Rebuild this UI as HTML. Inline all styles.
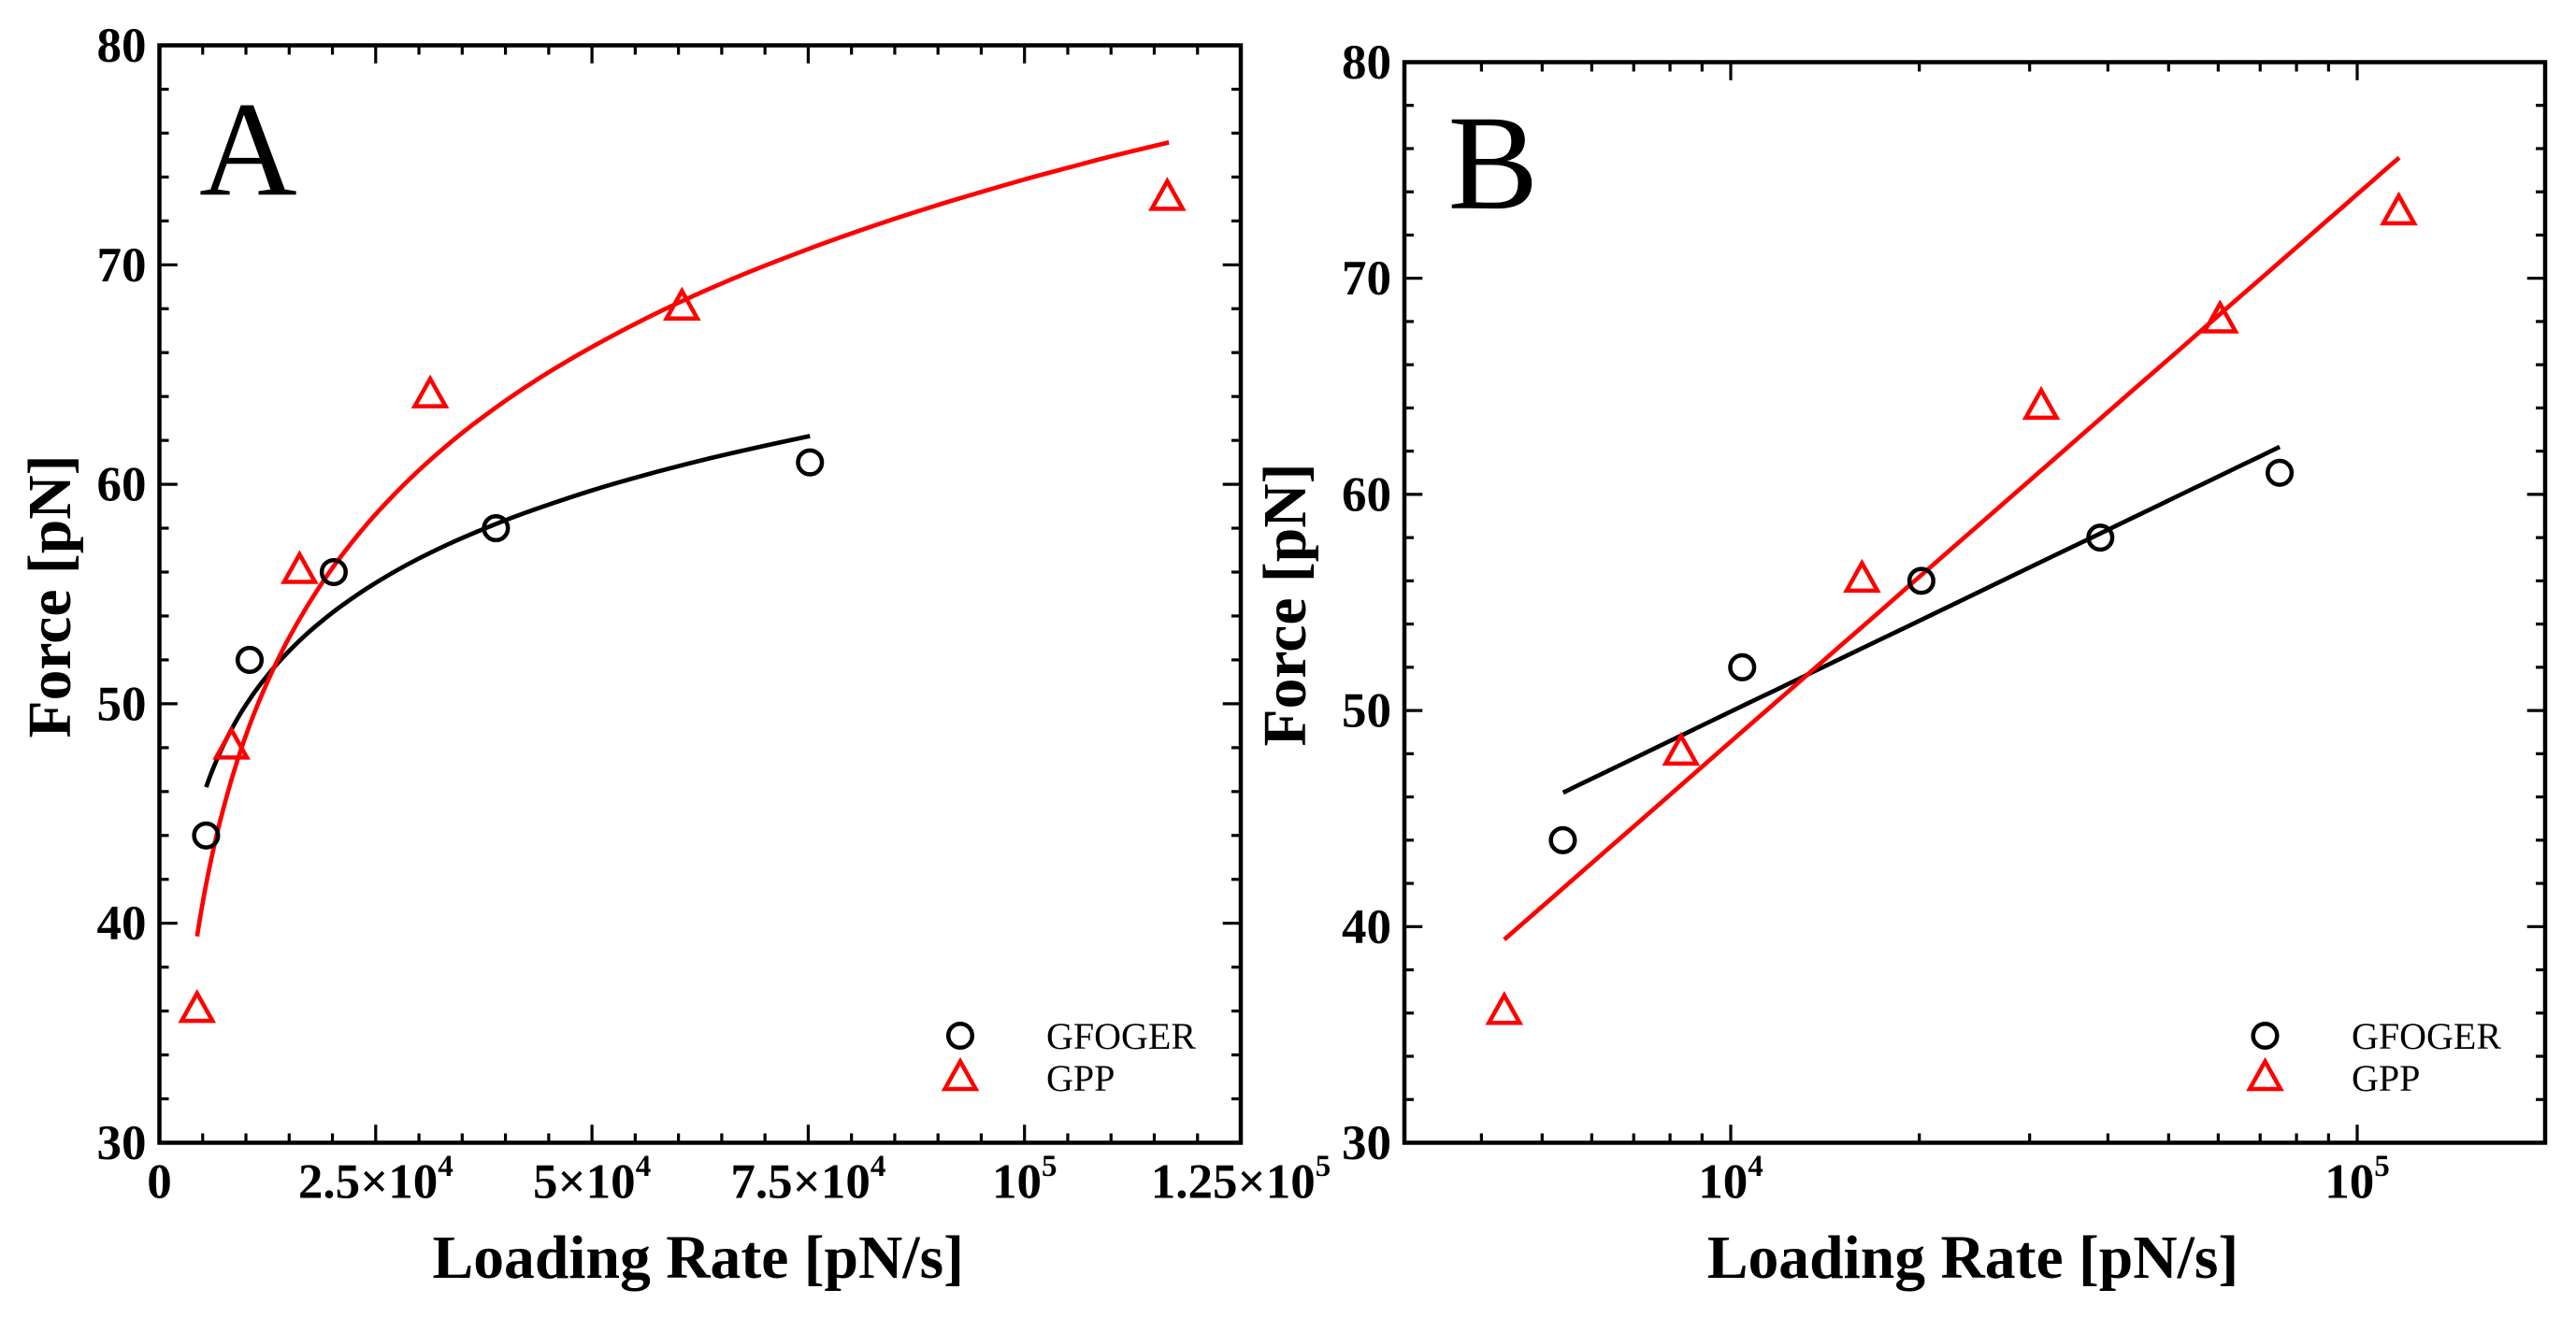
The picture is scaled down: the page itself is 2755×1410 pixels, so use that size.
<!DOCTYPE html>
<html lang="en">
<head>
<meta charset="utf-8">
<title>Force vs Loading Rate</title>
<style>
html,body{margin:0;padding:0;background:#fff;width:2755px;height:1410px;overflow:hidden}
svg{display:block}
text{font-family:"Liberation Serif",serif;fill:#000}
</style>
</head>
<body>
<svg id="figure" xmlns="http://www.w3.org/2000/svg" width="2755" height="1410" viewBox="0 0 2755 1410"></svg>
<script>
// Measured points
const gfogerRates = [5395, 10430, 20150, 38900, 75200];
const gfogerForces = [44, 52, 56, 58, 61];
const gppRates = [4350, 8330, 16200, 31300, 60400, 116500];
const gppForces = [36, 48, 56, 64, 68, 73];

// Fit curves
const gfogerFitRates = [5400, 5800, 6300, 7000, 7700, 8500, 9300, 10000, 11000, 12000, 13500, 15000, 17000, 19000, 21000, 24000, 27000, 30000, 34000, 38000, 42000, 47000, 52000, 58000, 64000, 70000, 75200];
const gfogerFitForces = [46.2, 46.64, 47.14, 47.78, 48.36, 48.96, 49.51, 49.95, 50.53, 51.05, 51.77, 52.41, 53.17, 53.84, 54.45, 55.26, 55.98, 56.62, 57.38, 58.05, 58.66, 59.34, 59.96, 60.62, 61.22, 61.76, 62.2];
const gppFitRates = [4350, 4700, 5000, 5500, 6000, 6500, 7000, 8000, 9000, 10000, 11000, 12000, 13500, 15000, 17000, 19000, 21000, 24000, 27000, 30000, 33000, 36000, 40000, 44000, 48000, 52000, 56000, 60000, 65000, 70000, 75000, 80000, 85000, 90000, 95000, 100000, 105000, 110000, 116700];
const gppFitForces = [39.4, 40.25, 40.93, 41.98, 42.94, 43.82, 44.63, 46.1, 47.4, 48.56, 49.61, 50.56, 51.86, 53.02, 54.39, 55.62, 56.72, 58.19, 59.48, 60.64, 61.69, 62.65, 63.81, 64.86, 65.81, 66.69, 67.51, 68.27, 69.15, 69.96, 70.72, 71.43, 72.1, 72.73, 73.32, 73.89, 74.42, 74.94, 75.58];

// Y axis (shared)
const yMajorTicks = [30, 40, 50, 60, 70, 80];
const yMinorTicks = [32, 34, 36, 38, 42, 44, 46, 48, 52, 54, 56, 58, 62, 64, 66, 68, 72, 74, 76, 78];
const yTickLabels = ['30', '40', '50', '60', '70', '80'];

// Panel A x axis (linear)
const xMajorTicksA = [0, 25000, 50000, 75000, 100000, 125000];
const xMinorTicksA = [5000, 10000, 15000, 20000, 30000, 35000, 40000, 45000, 55000, 60000, 65000, 70000, 80000, 85000, 90000, 95000, 105000, 110000, 115000, 120000];
const xTickBasesA = ['0', '2.5×10', '5×10', '7.5×10', '10', '1.25×10'];
const xTickExponentsA = ['', '4', '4', '4', '5', '5'];

// Panel B x axis (log)
const xMajorTicksB = [10000, 100000];
const xMinorTicksB = [4000, 5000, 6000, 7000, 8000, 9000, 20000, 30000, 40000, 50000, 60000, 70000, 80000, 90000];
const xTickBasesB = ['10', '10'];
const xTickExponentsB = ['4', '5'];

const legendLabels = ['GFOGER', 'GPP'];

const svg = document.getElementById('figure');
const NS = 'http://www.w3.org/2000/svg';

function make(parent, tag, attrs) {
  const el = document.createElementNS(NS, tag);
  for (const k in attrs) el.setAttribute(k, attrs[k]);
  parent.appendChild(el);
  return el;
}

function smoothPath(points) {
  let d = 'M' + points[0][0].toFixed(2) + ' ' + points[0][1].toFixed(2);
  for (let i = 0; i < points.length - 1; i++) {
    const p0 = points[Math.max(i - 1, 0)];
    const p1 = points[i];
    const p2 = points[i + 1];
    const p3 = points[Math.min(i + 2, points.length - 1)];
    const c1x = p1[0] + (p2[0] - p0[0]) / 6;
    const c1y = p1[1] + (p2[1] - p0[1]) / 6;
    const c2x = p2[0] - (p3[0] - p1[0]) / 6;
    const c2y = p2[1] - (p3[1] - p1[1]) / 6;
    d += ' C' + c1x.toFixed(2) + ' ' + c1y.toFixed(2) + ' ' + c2x.toFixed(2) + ' ' + c2y.toFixed(2) + ' ' + p2[0].toFixed(2) + ' ' + p2[1].toFixed(2);
  }
  return d;
}

function drawCircle(parent, cx, cy, name) {
  const el = make(parent, 'circle', { cx: cx, cy: cy, r: 12.8, fill: 'none', stroke: '#000', 'stroke-width': 4.5 });
  
  
}

function drawTriangle(parent, cx, cy, name) {
  const pts = [[cx, cy - 19], [cx + 16.5, cy + 10.5], [cx - 16.5, cy + 10.5]].map(p => p.join(',')).join(' ');
  const el = make(parent, 'polygon', { points: pts, fill: 'none', stroke: '#f00', 'stroke-width': 4.5 });
  
  
}

function drawPanel(p) {
  const g = make(svg, 'g', {});
  
  

  const xOf = p.xScale;
  const yOf = v => p.bottom + (v - 30) * (p.top - p.bottom) / 50;

  // ticks
  const ticks = make(g, 'g', { stroke: '#000', 'stroke-width': 3.2 });
  
  
  const xTick = (v, len) => {
    const x = xOf(v);
    make(ticks, 'line', { x1: x, x2: x, y1: p.bottom, y2: p.bottom - len });
    make(ticks, 'line', { x1: x, x2: x, y1: p.top, y2: p.top + len });
  };
  const yTick = (v, len) => {
    const y = yOf(v);
    make(ticks, 'line', { x1: p.left, x2: p.left + len, y1: y, y2: y });
    make(ticks, 'line', { x1: p.right, x2: p.right - len, y1: y, y2: y });
  };
  p.xMajor.forEach(v => xTick(v, 19.3));
  p.xMinor.forEach(v => xTick(v, 10));
  yMajorTicks.forEach(v => yTick(v, 19.3));
  yMinorTicks.forEach(v => yTick(v, 10));

  // frame
  const frame = make(g, 'rect', { x: p.left, y: p.top, width: p.right - p.left, height: p.bottom - p.top, fill: 'none', stroke: '#000', 'stroke-width': 4.5 });
  
  

  // y tick labels
  yMajorTicks.forEach((v, i) => {
    const t = make(g, 'text', { x: p.left - 14, y: yOf(v) + 17.5, 'text-anchor': 'end', 'font-size': 53, 'font-weight': 'bold' });
    
    
    t.textContent = yTickLabels[i];
  });

  // x tick labels
  p.xMajor.forEach((v, i) => {
    const t = make(g, 'text', { x: xOf(v), y: 1281.5, 'text-anchor': 'middle', 'font-size': 53, 'font-weight': 'bold' });
    
    
    const base = make(t, 'tspan', {});
    base.textContent = p.xBases[i];
    if (p.xExps[i]) {
      const sup = make(t, 'tspan', { dy: -23.4, 'font-size': 33 });
      sup.textContent = p.xExps[i];
    }
  });

  // axis titles
  const xTitle = make(g, 'text', { x: (p.left + p.right) / 2 - 2, y: 1367, 'text-anchor': 'middle', 'font-size': 65.6, 'font-weight': 'bold' });
  
  
  xTitle.textContent = 'Loading Rate [pN/s]';

  const yc = (p.top + p.bottom) / 2 + 2.5;
  const yTitle = make(g, 'text', { x: p.titleX, y: yc, 'text-anchor': 'middle', 'font-size': 65.6, 'font-weight': 'bold', transform: 'rotate(-90 ' + p.titleX + ' ' + yc + ')' });
  
  
  yTitle.textContent = 'Force [pN]';

  // panel letter
  const letter = make(g, 'text', { x: p.letterX, y: p.letterY, 'font-size': 145 });
  
  
  letter.textContent = p.letter;

  // fit curves
  const blackFit = make(g, 'path', { d: smoothPath(gfogerFitRates.map((r, i) => [xOf(r), yOf(gfogerFitForces[i])])), fill: 'none', stroke: '#000', 'stroke-width': 4.7 });
  
  
  const redFit = make(g, 'path', { d: smoothPath(gppFitRates.map((r, i) => [xOf(r), yOf(gppFitForces[i])])), fill: 'none', stroke: '#f00', 'stroke-width': 4.7 });
  
  

  // points
  gfogerRates.forEach((r, i) => drawCircle(g, xOf(r), yOf(gfogerForces[i]), 'gfoger-point'));
  gppRates.forEach((r, i) => drawTriangle(g, xOf(r), yOf(gppForces[i]), 'gpp-point'));

  // legend
  drawCircle(g, p.legendMarkerX, 1108, 'legend-marker-gfoger');
  drawTriangle(g, p.legendMarkerX, 1154.5, 'legend-marker-gpp');
  const l1 = make(g, 'text', { x: p.legendTextX, y: 1122, 'font-size': 40 });
  
  
  l1.textContent = legendLabels[0];
  const l2 = make(g, 'text', { x: p.legendTextX, y: 1167, 'font-size': 40 });
  
  
  l2.textContent = legendLabels[1];
}

drawPanel({
  id: 'a', letter: 'A', left: 170.5, right: 1327, top: 48.5, bottom: 1222.5,
  xScale: v => 170.5 + v * (1327 - 170.5) / 125000,
  xMajor: xMajorTicksA, xMinor: xMinorTicksA, xBases: xTickBasesA, xExps: xTickExponentsA,
  titleX: 75, letterX: 213, letterY: 208.3, legendMarkerX: 1027, legendTextX: 1119
});

drawPanel({
  id: 'b', letter: 'B', left: 1502, right: 2722, top: 66.5, bottom: 1222.5,
  xScale: v => 1851 + (Math.log10(v) - 4) * 670,
  xMajor: xMajorTicksB, xMinor: xMinorTicksB, xBases: xTickBasesB, xExps: xTickExponentsB,
  titleX: 1396, letterX: 1548.5, letterY: 222.7, legendMarkerX: 2422.5, legendTextX: 2515
});
</script>
</body>
</html>
